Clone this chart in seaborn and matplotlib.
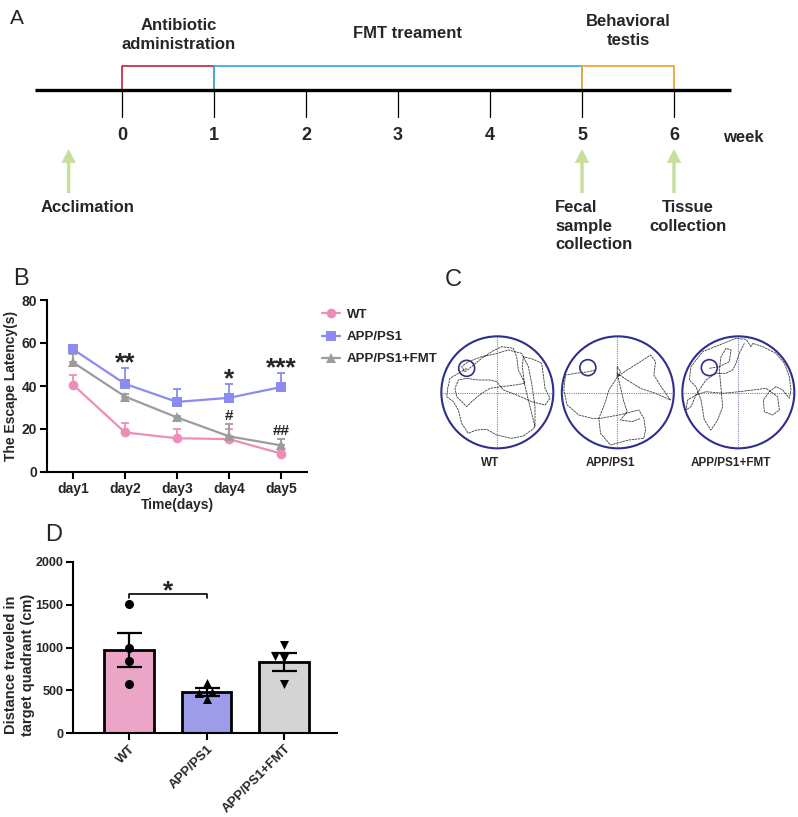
import numpy as np
import pandas as pd
import matplotlib
matplotlib.use("Agg")
import matplotlib.pyplot as plt
import seaborn as sns
from matplotlib.patches import Circle

# ---------------- data ----------------
# Panel A (timeline, weeks)
weeks = [0, 1, 2, 3, 4, 5, 6]
phase_labels = ["Antibiotic\nadministration", "FMT treament", "Behavioral\ntestis"]
phase_start = [0, 1, 5]
phase_end = [1, 5, 6]
event_labels = ["Acclimation", "Fecal\nsample\ncollection", "Tissue\ncollection"]
event_week = [-0.58, 5, 6]

# Panel B (escape latency, s)
days = ["day1", "day2", "day3", "day4", "day5"]
wt_mean = [40.6, 18.4, 15.7, 15.3, 8.6]
wt_sem = [4.3, 4.6, 4.3, 4.9, 1.6]
app_mean = [57.1, 41.0, 32.6, 34.5, 39.5]
app_sem = [1.0, 7.3, 6.2, 6.5, 6.5]
fmt_mean = [51.0, 35.1, 25.4, 16.6, 12.4]
fmt_sem = [4.0, 1.0, 0.8, 5.8, 2.9]
sig_app = ["", "**", "", "*", "***"]
sig_fmt = ["", "", "", "#", "##"]

# Panel C (swim traces, image coords of a 375 box, centre 187/187, r 168)
groups = ["WT", "APP/PS1", "APP/PS1+FMT"]
platform_xy = [(95, 115), (97, 113), (100, 113)]
wt_path_x = [95, 70, 45, 38, 35, 55, 70, 80, 100, 125, 155, 185, 230, 265, 290, 300, 290, 280, 268, 262, 265, 295, 320, 325, 330, 345, 330, 290, 245, 205, 185, 165, 130, 95, 70, 60, 65, 95, 110, 140, 165, 200, 240, 270, 250, 245, 235, 200, 170, 140, 110, 90, 80, 100, 140, 180, 220, 260, 280, 290, 300, 300]
wt_path_y = [115, 130, 145, 175, 200, 215, 240, 280, 310, 300, 298, 315, 325, 318, 300, 290, 250, 210, 160, 110, 80, 88, 100, 135, 175, 205, 225, 215, 195, 180, 155, 150, 150, 145, 150, 175, 200, 230, 215, 190, 175, 170, 165, 160, 120, 80, 55, 50, 65, 85, 110, 125, 110, 95, 80, 72, 60, 70, 110, 160, 230, 290]
app_path_x = [120, 100, 60, 30, 25, 35, 70, 110, 135, 190, 250, 265, 270, 265, 220, 165, 135, 130, 150, 160, 180, 195, 185, 185, 215, 255, 285, 300, 295, 320, 345, 300, 255, 215, 185, 205, 215, 195, 230, 255]
app_path_y = [120, 125, 130, 135, 180, 225, 255, 265, 265, 255, 240, 265, 300, 325, 330, 345, 310, 265, 215, 180, 150, 125, 110, 140, 120, 95, 75, 95, 135, 175, 210, 190, 175, 150, 130, 215, 245, 270, 275, 265]
fmt_path_x = [100, 130, 160, 165, 150, 135, 130, 135, 140, 125, 105, 85, 75, 60, 40, 45, 80, 130, 180, 210, 225, 230, 260, 300, 325, 340, 345, 340, 320, 300, 280, 262, 265, 290, 310, 305, 270, 230, 190, 140, 90, 60, 35, 30, 45, 60, 90, 120, 150, 170, 180, 190, 205]
fmt_path_y = [115, 110, 95, 60, 55, 80, 120, 175, 230, 270, 300, 270, 210, 170, 150, 110, 65, 45, 25, 28, 50, 40, 50, 70, 100, 140, 180, 205, 180, 170, 185, 210, 245, 255, 240, 200, 175, 180, 185, 190, 185, 195, 210, 240, 230, 195, 150, 130, 130, 120, 100, 70, 40]

# Panel D (distance in target quadrant, cm)
bar_mean = [975, 480, 825]
bar_sem = [200, 52, 105]
wt_pts = [1505, 1000, 845, 575]
app_pts = [590, 400, 485, 470]
fmt_pts = [1025, 905, 880, 575]

# ---------------- style ----------------
sns.set_theme(style="ticks")
plt.rcParams["font.family"] = ["Liberation Sans", "DejaVu Sans"]
plt.rcParams["axes.labelweight"] = "bold"

W, H = 798, 817
fig = plt.figure(figsize=(W / 100, H / 100), dpi=100)


def ax_px(l, t, w, h):
    return fig.add_axes([l / W, 1 - (t + h) / H, w / W, h / H])


# ---------------- Panel A ----------------
axA = ax_px(0, 0, W, 262)
x0, pxw = 122, 92
axA.set_xlim(-x0 / pxw, (W - x0) / pxw)
axA.set_ylim(262, 0)
axA.axis("off")
phase_colors = ["#cf2f45", "#3fb0dc", "#eba93a"]
axA.plot([-0.95, 6.62], [90, 90], color="black", lw=2.4, solid_capstyle="butt", zorder=3)
for wk in weeks:
    axA.plot([wk, wk], [90, 117], color="black", lw=0.9, zorder=2)
    axA.text(wk, 135, str(wk), ha="center", va="center", fontsize=13, fontweight="bold")
axA.text(6.53, 137, "week", ha="left", va="center", fontsize=12, fontweight="bold")
lab_y = [35, 33, 31]
lab_dx = [0.12, 0.1, 0.0]
for lbl, s, e, c, ly, dx in zip(phase_labels, phase_start, phase_end, phase_colors, lab_y, lab_dx):
    axA.plot([s, s, e, e], [90, 66, 66, 90], color=c, lw=1.3, zorder=1)
    axA.text((s + e) / 2 + dx, ly, lbl, ha="center", va="center", fontsize=12,
             fontweight="bold", linespacing=1.3)
ev_dx = [0.2, -0.29, 0.15]
ev_ha = ["center", "left", "center"]
for lbl, wk, dx, ha in zip(event_labels, event_week, ev_dx, ev_ha):
    axA.annotate("", xy=(wk, 149), xytext=(wk, 193),
                 arrowprops=dict(arrowstyle="simple,head_length=1.0,head_width=1.05,tail_width=0.25",
                                 color="#c8df9c", mutation_scale=10, shrinkA=0, shrinkB=0, lw=0))
    axA.text(wk + dx, 200, lbl, ha=ha, va="top", fontsize=12, fontweight="bold", linespacing=1.3)

# ---------------- Panel B ----------------
axB = ax_px(47, 300, 260, 172)
colB = {"WT": "#f08cba", "APP/PS1": "#8b8bf0", "APP/PS1+FMT": "#9c9c9c"}
dfB = pd.DataFrame({
    "x": list(range(5)) * 3,
    "latency": wt_mean + app_mean + fmt_mean,
    "group": ["WT"] * 5 + ["APP/PS1"] * 5 + ["APP/PS1+FMT"] * 5,
})
sns.lineplot(data=dfB, x="x", y="latency", hue="group", style="group",
             hue_order=groups, style_order=groups, palette=colB,
             markers=["o", "s", "^"], dashes=False, markersize=7, markeredgewidth=0,
             lw=1.6, ax=axB)
for g, m, s in zip(groups, [wt_mean, app_mean, fmt_mean], [wt_sem, app_sem, fmt_sem]):
    axB.errorbar(range(5), m, yerr=[np.zeros(5), s], fmt="none", ecolor=colB[g],
                 elinewidth=1.3, capsize=3, capthick=1.3, zorder=1)
for i in range(5):
    if sig_app[i]:
        axB.text(i, app_mean[i] + app_sem[i] + 2.2, sig_app[i], ha="center", va="center",
                 fontsize=19, fontweight="bold")
    if sig_fmt[i]:
        axB.text(i, fmt_mean[i] + fmt_sem[i] + 3.6, sig_fmt[i], ha="center", va="center",
                 fontsize=11, fontweight="bold")
axB.set_xlim(-0.5, 4.5)
axB.set_ylim(0, 80)
axB.set_yticks([0, 20, 40, 60, 80])
axB.set_xticks(range(5), days)
axB.set_xlabel("Time(days)", fontsize=10, labelpad=2)
axB.set_ylabel("The Escape Latency(s)", fontsize=10, labelpad=3)
for lab in axB.get_xticklabels() + axB.get_yticklabels():
    lab.set_fontweight("bold")
    lab.set_fontsize(10)
sns.despine(ax=axB)
for sp in ["left", "bottom"]:
    axB.spines[sp].set_linewidth(1.5)
    axB.spines[sp].set_color("black")
axB.tick_params(width=1.5, length=5, color="black", pad=2)
handles, labels = axB.get_legend_handles_labels()
axB.get_legend().remove()
fig.legend(handles, labels, loc="upper left", bbox_to_anchor=(310 / W, 1 - 297 / H),
           frameon=False, prop=dict(weight="bold", size=9.5), handlelength=1.4,
           handletextpad=0.5, labelspacing=0.75)

# ---------------- Panel C ----------------
paths = [(wt_path_x, wt_path_y), (app_path_x, app_path_y), (fmt_path_x, fmt_path_y)]
for i, (g, (px, py), pf) in enumerate(zip(groups, paths, platform_xy)):
    axC = ax_px(435 + 120.5 * i, 330, 125, 125)
    axC.set_xlim(0, 375)
    axC.set_ylim(375, 0)
    axC.set_aspect("equal")
    axC.axis("off")
    axC.plot([185, 185], [20, 355], color="#8080b8", lw=0.8, ls=(0, (1, 1)))
    axC.plot([20, 355], [188, 188], color="#8080b8", lw=0.8, ls=(0, (1, 1)))
    axC.plot(px, py, color="#3a3a3a", lw=0.6, ls=(0, (3, 0.8)))
    axC.add_patch(Circle((187, 187), 168, fill=False, ec="#2e2e8e", lw=1.5))
    axC.add_patch(Circle(pf, 24, fill=False, ec="#2e2e8e", lw=1.2))
    axC.text(166, 400, g, ha="center", va="center", fontsize=8.5, fontweight="bold",
             clip_on=False)

# ---------------- Panel D ----------------
axD = ax_px(73, 562, 264, 171)
colD = ["#f79ac6", "#8f8ff6", "#d4d4d4"]
dfD = pd.DataFrame({"group": groups, "dist": bar_mean})
sns.barplot(data=dfD, x="group", y="dist", hue="group", order=groups, hue_order=groups,
            palette=colD, width=0.64, edgecolor="black", linewidth=2, errorbar=None,
            legend=False, ax=axD)
axD.errorbar(range(3), bar_mean, yerr=bar_sem, fmt="none", ecolor="black", elinewidth=1.6,
             capsize=9, capthick=1.6, zorder=3)
for g, pts, m in zip(groups, [wt_pts, app_pts, fmt_pts], ["o", "^", "v"]):
    sns.swarmplot(x=[g] * len(pts), y=pts, order=groups, marker=m, color="black",
                  size=6.5, ax=axD, zorder=4)
axD.plot([0, 0, 1, 1], [1575, 1630, 1630, 1575], color="black", lw=1.2)
axD.text(0.5, 1660, "*", ha="center", va="center", fontsize=19, fontweight="bold")
axD.set_xlim(-0.72, 2.68)
axD.set_ylim(0, 2000)
axD.set_yticks([0, 500, 1000, 1500, 2000])
axD.set_xlabel("")
axD.set_ylabel("Distance traveled in\ntarget quadrant (cm)", fontsize=10.5, linespacing=1.25)
axD.yaxis.set_label_coords(-0.145, 0.40)
for lab in axD.get_yticklabels():
    lab.set_fontweight("bold")
    lab.set_fontsize(9)
for lab in axD.get_xticklabels():
    lab.set_fontweight("bold")
    lab.set_fontsize(9.5)
    lab.set_rotation(45)
    lab.set_ha("right")
    lab.set_va("top")
    lab.set_rotation_mode("anchor")
sns.despine(ax=axD)
for sp in ["left", "bottom"]:
    axD.spines[sp].set_linewidth(1.5)
    axD.spines[sp].set_color("black")
axD.tick_params(width=1.5, length=5, color="black", pad=2)

# ---------------- panel letters ----------------
fig.text(10 / W, 1 - 18 / H, "A", fontsize=15, va="center", ha="left")
fig.text(13 / W, 1 - 279 / H, "B", fontsize=17, va="center", ha="left")
fig.text(445 / W, 1 - 280 / H, "C", fontsize=17, va="center", ha="left")
fig.text(45 / W, 1 - 535 / H, "D", fontsize=17, va="center", ha="left")

fig.savefig("out.png", dpi=100, facecolor="white")
